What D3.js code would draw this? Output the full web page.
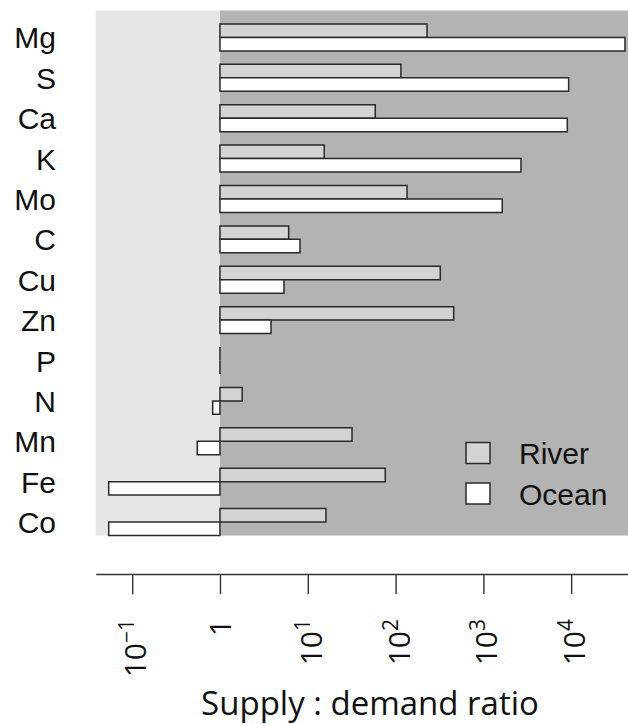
<!DOCTYPE html>
<html>
<head>
<meta charset="utf-8">
<script src="https://cdnjs.cloudflare.com/ajax/libs/d3/7.8.5/d3.min.js"></script>
<style>
  body { margin: 0; background: #fff; }
</style>
</head>
<body>
<script>
// elements, top to bottom
var elements = ["Mg", "S", "Ca", "K", "Mo", "C", "Cu", "Zn", "P", "N", "Mn", "Fe", "Co"];
var series = ["River", "Ocean"];
// supply : demand ratios
var river = [228, 115, 58.7, 15.4, 135, 6.06, 323, 459, 1, 1.79, 31.9, 76.3, 16.1];
var ocean = [41000, 9360, 9030, 2680, 1640, 8.15, 5.36, 3.81, 1, 0.826, 0.551, 0.054, 0.054];
var tickValues = [0.1, 1, 10, 100, 1000, 10000];
var xLimits = [0.0384, 44400];

var svg = d3.select("body").append("svg")
            .attr("width", 628).attr("height", 724);

var x = d3.scaleLog().domain(xLimits).range([95.7, 628]);
var y = d3.scaleBand().domain(elements).range([10.5, 535.5])
          .paddingInner(1/3).paddingOuter(1/6).align(1);
var ySub = d3.scaleBand().domain(series).range([0, y.bandwidth()]);
var fill = d3.scaleOrdinal().domain(series).range(["#d3d3d3", "#ffffff"]);

var yTop = y.range()[0], yBottom = y.range()[1];

// background panels: below and above 1
svg.append("rect")
   .attr("x", x.range()[0]).attr("y", yTop)
   .attr("width", x(1) - x.range()[0]).attr("height", yBottom - yTop)
   .style("fill", "#e6e6e6");
svg.append("rect")
   .attr("x", x(1)).attr("y", yTop)
   .attr("width", x.range()[1] - x(1)).attr("height", yBottom - yTop)
   .style("fill", "#b3b3b3");

var bars = [];
elements.forEach(function(e, i){
    bars.push({el: e, s: "River", v: river[i]});
    bars.push({el: e, s: "Ocean", v: ocean[i]});
});

// paths so that a zero-length bar (P) still shows its outline
svg.append("g").selectAll("path")
   .data(bars)
   .enter().append("path")
   .attr("d", function(d){
       var x0 = x(1), x1 = x(d.v);
       var y0 = y(d.el) + ySub(d.s), y1 = y0 + ySub.bandwidth();
       return "M" + x0 + "," + y0 + "H" + x1 + "V" + y1 + "H" + x0 + "Z";
   })
   .style("fill", function(d){ return fill(d.s); })
   .style("stroke", "#2a2a2a")
   .style("stroke-width", 1.5);

// element labels
svg.append("g").selectAll("text")
   .data(elements)
   .enter().append("text")
   .text(function(d){ return d; })
   .attr("x", 56)
   .attr("y", function(d){ return y(d) + y.bandwidth()/2 + 11; })
   .attr("text-anchor", "end")
   .style("font-family", "'Liberation Sans', Arial, sans-serif")
   .style("font-size", "30px")
   .style("fill", "#111");

// legend
var legend = svg.append("g").selectAll("g")
   .data(series)
   .enter().append("g")
   .attr("transform", function(d, i){ return "translate(466," + (442.5 + i*40.5) + ")"; });
legend.append("rect")
   .attr("width", 24).attr("height", 21)
   .style("fill", function(d){ return fill(d); })
   .style("stroke", "#2a2a2a")
   .style("stroke-width", 1.5);
legend.append("text")
   .text(function(d){ return d; })
   .attr("x", 53).attr("y", 21.5)
   .style("font-family", "'Liberation Sans', Arial, sans-serif")
   .style("font-size", "30px")
   .style("fill", "#111");

// x axis, drawn below the panel
var axis = svg.append("g")
   .attr("transform", "translate(0,574)")
   .call(d3.axisBottom(x).tickValues(tickValues).tickSize(20).tickSizeOuter(0).tickFormat(""));
axis.select(".domain").style("stroke", "#333").style("stroke-width", 1.4);
axis.selectAll(".tick line").style("stroke", "#333").style("stroke-width", 1.4);

var labels = svg.append("g").selectAll("text")
   .data(tickValues)
   .enter().append("text")
   .attr("transform", function(d){
       var dx = d === 1 ? 11 : 14;
       return "translate(" + (x(d) + dx) + ",619) rotate(-90)";
   })
   .attr("text-anchor", "end")
   .style("font-family", "'Open Sans', sans-serif")
   .style("font-size", "30px")
   .style("fill", "#111");

labels.each(function(d){
    var t = d3.select(this);
    if (d === 1) {
        t.text("1");
    } else {
        var p = Math.round(Math.log10(d));
        t.append("tspan").text("10");
        t.append("tspan").text(p < 0 ? "\u2212" + (-p) : String(p))
         .attr("dy", -12).style("font-size", "21px");
    }
});

svg.append("text")
   .text("Supply : demand ratio")
   .attr("x", 370).attr("y", 715)
   .attr("text-anchor", "middle")
   .style("font-family", "'Open Sans', sans-serif")
   .style("font-size", "33px")
   .style("fill", "#111");
</script>
</body>
</html>
